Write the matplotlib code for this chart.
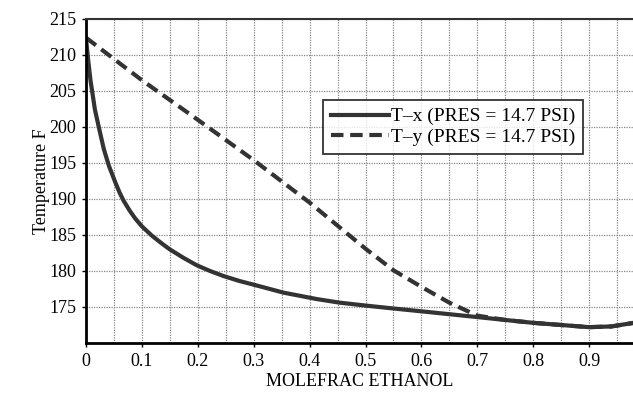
import matplotlib.pyplot as plt
import numpy as np

# liquid (T-x) and vapour (T-y) curves
x_liq = [0.0, 0.004, 0.008, 0.016, 0.024, 0.032, 0.041, 0.052, 0.06, 0.067,
         0.078, 0.088, 0.1, 0.118, 0.136, 0.15, 0.175, 0.198, 0.222, 0.246,
         0.275, 0.3, 0.353, 0.413, 0.454, 0.5, 0.549, 0.6, 0.65, 0.7, 0.75,
         0.8, 0.85, 0.9, 0.94, 0.98]
t_liq = [212.3, 209.2, 206.5, 202.4, 199.6, 196.9, 194.6, 192.4, 190.9,
         189.8, 188.4, 187.3, 186.2, 184.9, 183.8, 183.0, 181.8, 180.8,
         180.0, 179.3, 178.6, 178.1, 177.0, 176.1, 175.6, 175.2, 174.8,
         174.4, 174.0, 173.6, 173.2, 172.8, 172.5, 172.2, 172.3, 172.8]

x_vap = [0.0, 0.1, 0.2, 0.3, 0.4, 0.5, 0.55, 0.6, 0.65, 0.7, 0.75, 0.8,
         0.85, 0.9, 0.94, 0.98]
t_vap = [212.4, 206.5, 201.0, 195.4, 189.5, 183.1, 180.1, 177.8, 175.6,
         173.8, 173.2, 172.8, 172.5, 172.2, 172.3, 172.8]

legend_labels = ['T\u2013x (PRES = 14.7 PSI)', 'T\u2013y (PRES = 14.7 PSI)']

plt.rcParams['font.family'] = ['Liberation Serif', 'DejaVu Serif']

fig = plt.figure(figsize=(6.33, 3.96), dpi=100)
ax = fig.add_axes([86 / 633, 1 - 343 / 396, 547 / 633, 324 / 396])

line_col = '#333333'
ax.plot(x_liq, t_liq, color=line_col, lw=3, solid_joinstyle='round',
        label=legend_labels[0])
ax.plot(x_vap, t_vap, color=line_col, lw=3, dashes=(3.0, 1.6),
        label=legend_labels[1])

ax.set_xlim(0, 547 / 559)
ax.set_ylim(170, 215)
ax.set_xticks(np.arange(0, 0.95, 0.1))
ax.set_xticklabels(['0'] + ['%.1f' % v for v in np.arange(0.1, 0.95, 0.1)])
ax.set_xticks(np.arange(0.05, 0.98, 0.1), minor=True)
ax.set_yticks(np.arange(175, 216, 5))

ax.grid(True, which='both', axis='x', color='#888888', ls=(0, (1, 1)), lw=0.9)
ax.grid(True, which='major', axis='y', color='#888888', ls=(0, (1, 1)), lw=0.9)
ax.tick_params(labelsize=13, length=3, width=1, direction='out', pad=4)
ax.tick_params(which='minor', length=0)

for s in ['left', 'bottom']:
    ax.spines[s].set_linewidth(2)
ax.spines['top'].set_linewidth(1.5)
ax.spines['top'].set_color('#333333')
ax.spines['right'].set_visible(False)

ax.set_xlabel('MOLEFRAC ETHANOL', fontsize=13, labelpad=2)
ax.set_ylabel('Temperature F', fontsize=13)
ax.yaxis.set_label_coords(-36 / 547, 0.5)

leg = ax.legend(loc='upper right', bbox_to_anchor=(0.909, 0.75), fontsize=14,
                frameon=True, fancybox=False, handlelength=3.0,
                handletextpad=0.1, borderpad=0.4, labelspacing=0.15,
                borderaxespad=0)
leg.get_frame().set_edgecolor('black')
leg.get_frame().set_linewidth(1.3)

plt.savefig('out.png', dpi=100)
